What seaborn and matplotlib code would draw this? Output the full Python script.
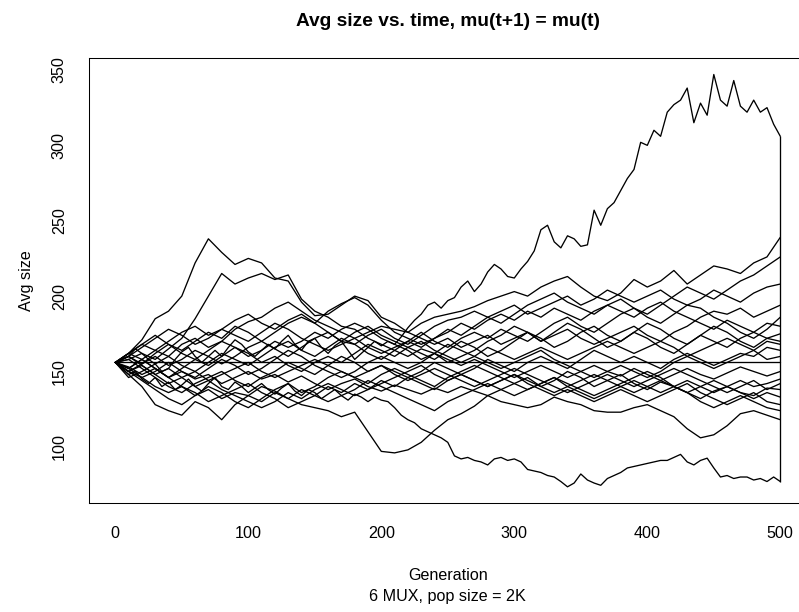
import matplotlib
matplotlib.use("Agg")
import matplotlib.pyplot as plt
import pandas as pd
import seaborn as sns

# Generation grids used by the recorded runs
GEN_FINE = list(range(0, 501, 5))
GEN_COARSE = list(range(0, 501, 10))

# Average program size per run (GEN_FINE samples)
RUN_A = [156, 158, 160, 165, 162, 158, 155, 150, 152, 158,
         163, 166, 160, 156, 160, 164, 160, 166, 171, 168,
         163, 160, 164, 168, 165, 170, 174, 168, 164, 170,
         172, 166, 162, 167, 170, 164, 158, 162, 166, 170,
         167, 170, 168, 173, 179, 184, 188, 194, 196, 192,
         197, 199, 206, 210, 203, 208, 216, 221, 218, 213,
         212, 218, 223, 230, 244, 247, 236, 232, 240, 238,
         233, 234, 257, 247, 258, 262, 270, 278, 284, 302,
         300, 310, 306, 322, 327, 330, 338, 315, 328, 320,
         347, 330, 326, 343, 326, 322, 330, 322, 325, 314,
         306]
RUN_B = [156, 152, 148, 150, 145, 142, 146, 140, 143, 138,
         141, 145, 140, 137, 142, 146, 140, 138, 143, 140,
         136, 139, 142, 138, 135, 139, 142, 137, 134, 138,
         136, 132, 135, 138, 134, 131, 135, 133, 130, 133,
         131, 130, 126, 121, 118, 116, 112, 110, 108, 106,
         103, 94, 92, 93, 91, 90, 88, 92, 93, 91,
         92, 90, 85, 84, 83, 81, 80, 77, 73.5, 76,
         82, 78, 76, 74.5, 79, 81, 83, 86, 87, 88,
         89, 90, 91, 91, 93, 95, 90, 88, 91, 92.5,
         86, 80, 81, 79, 80, 80, 78, 79, 77, 80,
         77]

# Average program size per run (GEN_COARSE samples)
RUN_C = [156, 150, 146, 140, 136, 140, 134, 138, 132, 136,
         134, 140, 137, 132, 128, 126, 124, 120, 123, 110,
         97, 96, 98, 103, 111, 118, 122, 127, 134, 138,
         142, 146, 140, 144, 150, 146, 140, 144, 148, 142,
         138, 143, 140, 136, 132, 137, 140, 136, 134, 139, 138]
RUN_D = [156, 162, 171, 185, 190, 200, 222, 238, 229, 221,
         225, 222, 212, 210, 196, 187, 188, 194, 200, 197,
         186, 182, 176, 172, 168, 172, 166, 170, 174, 168,
         172, 176, 170, 174, 178, 172, 168, 172, 176, 180,
         174, 170, 176, 180, 186, 190, 188, 192, 186, 190, 194]
RUN_E = [156, 158, 162, 158, 165, 172, 185, 200, 215, 208,
         212, 215, 211, 214, 198, 190, 186, 180, 178, 172,
         168, 164, 160, 165, 162, 158, 154, 158, 154, 150,
         146, 150, 154, 150, 146, 150, 154, 150, 147, 152,
         148, 144, 148, 152, 148, 145, 149, 153, 150, 147, 150]
RUN_F = [156, 160, 155, 162, 168, 164, 170, 176, 172, 180,
         176, 170, 176, 182, 186, 182, 190, 195, 199, 194,
         184, 176, 172, 168, 172, 176, 182, 178, 184, 188,
         184, 190, 186, 192, 188, 184, 190, 194, 190, 186,
         192, 196, 190, 186, 182, 178, 184, 180, 176, 182, 180]
RUN_G = [156, 152, 158, 164, 160, 168, 172, 166, 170, 178,
         183, 186, 192, 196, 190, 184, 180, 176, 172, 176,
         180, 178, 176, 182, 186, 188, 190, 193, 197, 200,
         203, 200, 206, 210, 213, 206, 200, 197, 202, 211,
         206, 210, 217, 208, 214, 220, 218, 215, 222, 226, 239]
RUN_H = [156, 148, 140, 128, 124, 121, 130, 126, 118, 128,
         134, 130, 136, 132, 138, 134, 140, 136, 142, 138,
         144, 140, 146, 142, 138, 144, 148, 144, 140, 144,
         148, 144, 140, 136, 140, 144, 148, 144, 140, 136,
         140, 144, 140, 136, 140, 144, 140, 136, 132, 136, 133]
RUN_I = [156, 153, 148, 152, 146, 150, 145, 148, 142, 146,
         150, 145, 148, 143, 147, 142, 138, 142, 145, 140,
         137, 141, 138, 135, 139, 136, 140, 137, 134, 130,
         128, 126, 128, 133, 130, 128, 124, 123, 123, 126,
         128, 124, 120, 112, 106, 108, 114, 122, 124, 121, 118]
RUN_K = [156, 150, 155, 160, 154, 158, 164, 160, 155, 160,
         166, 170, 165, 160, 166, 172, 176, 170, 168, 174,
         178, 172, 168, 174, 180, 184, 186, 190, 186, 182,
         188, 194, 198, 202, 196, 192, 188, 194, 198, 192,
         188, 194, 200, 206, 202, 198, 204, 210, 214, 220, 226]
RUN_L = [156, 160, 166, 172, 178, 174, 168, 172, 178, 174,
         170, 176, 182, 178, 172, 168, 164, 168, 172, 166,
         162, 166, 170, 166, 172, 178, 174, 180, 186, 190,
         194, 188, 192, 196, 200, 194, 198, 204, 200, 196,
         200, 204, 198, 194, 198, 204, 200, 196, 202, 206, 208]
RUN_M = [156, 146, 150, 155, 160, 154, 150, 156, 162, 158,
         154, 160, 166, 170, 164, 160, 166, 172, 168, 162,
         158, 164, 170, 176, 170, 166, 172, 176, 172, 178,
         174, 170, 176, 182, 186, 180, 176, 182, 188, 192,
         186, 182, 188, 194, 192, 186, 182, 176, 172, 178, 186]
RUN_N = [156, 162, 158, 152, 146, 152, 158, 154, 160, 166,
         162, 156, 160, 154, 150, 156, 160, 156, 162, 168,
         164, 160, 166, 162, 158, 164, 170, 166, 160, 164,
         170, 176, 172, 166, 170, 176, 180, 174, 170, 176,
         182, 178, 172, 168, 174, 180, 176, 170, 166, 172, 175]
RUN_O = [156, 152, 146, 150, 156, 150, 146, 152, 158, 154,
         148, 152, 158, 164, 160, 154, 150, 146, 150, 156,
         160, 156, 152, 156, 162, 168, 164, 160, 166, 162,
         158, 162, 166, 162, 158, 162, 166, 170, 166, 162,
         166, 170, 166, 160, 164, 168, 172, 168, 164, 170, 168]
RUN_P = [156, 158, 152, 146, 140, 136, 142, 146, 150, 144,
         140, 146, 150, 156, 152, 148, 154, 160, 156, 150,
         154, 150, 146, 150, 156, 152, 148, 152, 158, 154,
         150, 156, 160, 156, 152, 158, 164, 160, 156, 160,
         156, 152, 158, 162, 158, 154, 158, 162, 160, 166, 164]
RUN_Q = [156, 162, 168, 164, 170, 176, 180, 174, 178, 184,
         188, 182, 178, 184, 188, 182, 176, 170, 176, 180,
         174, 170, 166, 170, 164, 160, 156, 160, 156, 152,
         156, 160, 164, 158, 154, 150, 146, 150, 154, 150,
         146, 150, 156, 160, 156, 152, 156, 160, 164, 158, 160]
RUN_R = [156, 150, 144, 138, 132, 128, 134, 140, 136, 130,
         126, 132, 138, 142, 136, 140, 146, 150, 146, 142,
         148, 152, 148, 144, 140, 146, 150, 154, 150, 146,
         142, 138, 142, 146, 140, 136, 132, 136, 140, 144,
         140, 136, 140, 144, 140, 136, 140, 144, 140, 142, 145]
RUN_S = [156, 160, 154, 148, 152, 146, 140, 144, 148, 152,
         156, 150, 146, 150, 154, 158, 154, 150, 146, 150,
         154, 148, 144, 148, 152, 148, 144, 140, 144, 148,
         152, 148, 144, 140, 136, 140, 144, 148, 144, 140,
         144, 148, 152, 148, 144, 140, 136, 140, 144, 138, 142]
RUN_T = [156, 150, 154, 148, 142, 146, 150, 144, 138, 134,
         130, 126, 130, 136, 132, 138, 142, 138, 134, 138,
         142, 146, 150, 154, 148, 144, 148, 144, 140, 144,
         148, 142, 138, 134, 138, 134, 130, 134, 138, 134,
         130, 134, 138, 142, 136, 132, 128, 132, 136, 130, 128]
RUN_U = [156, 152, 158, 152, 146, 140, 136, 130, 134, 138,
         142, 136, 132, 126, 130, 134, 130, 134, 138, 144,
         140, 136, 132, 128, 124, 130, 134, 138, 142, 138,
         134, 138, 142, 146, 142, 138, 134, 138, 142, 146,
         150, 146, 140, 136, 130, 126, 130, 134, 130, 126, 124]
RUN_V = [156, 162, 168, 174, 168, 162, 158, 164, 170, 166,
         160, 164, 170, 166, 170, 176, 172, 178, 182, 178,
         172, 168, 164, 158, 162, 156, 160, 164, 170, 174,
         180, 176, 170, 176, 182, 178, 172, 166, 170, 176,
         172, 166, 162, 168, 174, 170, 166, 172, 176, 172, 170]

# One run whose average size never moved
FLAT_GENS = [0, 500]
FLAT_RUN = [156, 156]

runs = {
    "A": (GEN_FINE, RUN_A), "B": (GEN_FINE, RUN_B),
    "C": (GEN_COARSE, RUN_C), "D": (GEN_COARSE, RUN_D),
    "E": (GEN_COARSE, RUN_E), "F": (GEN_COARSE, RUN_F),
    "G": (GEN_COARSE, RUN_G), "H": (GEN_COARSE, RUN_H),
    "I": (GEN_COARSE, RUN_I), "K": (GEN_COARSE, RUN_K),
    "L": (GEN_COARSE, RUN_L), "M": (GEN_COARSE, RUN_M),
    "N": (GEN_COARSE, RUN_N), "O": (GEN_COARSE, RUN_O),
    "P": (GEN_COARSE, RUN_P), "Q": (GEN_COARSE, RUN_Q),
    "R": (GEN_COARSE, RUN_R), "S": (GEN_COARSE, RUN_S),
    "T": (GEN_COARSE, RUN_T), "U": (GEN_COARSE, RUN_U),
    "V": (GEN_COARSE, RUN_V), "Z": (FLAT_GENS, FLAT_RUN),
}

frames = []
for name, (gens, vals) in runs.items():
    frames.append(pd.DataFrame({"gen": gens, "size": vals, "run": name}))
df = pd.concat(frames, ignore_index=True)

sns.set_style("white")
plt.rcParams["font.family"] = ["Liberation Sans", "DejaVu Sans"]
plt.rcParams["text.color"] = "black"
plt.rcParams["axes.labelcolor"] = "black"
plt.rcParams["xtick.color"] = "black"
plt.rcParams["ytick.color"] = "black"

W, H = 799, 612
fig = plt.figure(figsize=(W / 100, H / 100), dpi=100)
left_px, right_px, top_px, bottom_px = 88.7, 806.9, 58.0, 503.3
ax = fig.add_axes([left_px / W, 1 - bottom_px / H,
                   (right_px - left_px) / W, (bottom_px - top_px) / H])

sns.lineplot(data=df, x="gen", y="size", units="run", estimator=None,
             color="black", linewidth=0.95, ax=ax, legend=False)

# closing segment joining the final values of all runs
ends = df[df["gen"] == df["gen"].max()]["size"]
ax.vlines(df["gen"].max(), ends.min(), ends.max(), color="black", linewidth=0.95)

# R-style 4% padding around the data range
xmin, xmax = df["gen"].min(), df["gen"].max()
ymin, ymax = df["size"].min(), df["size"].max()
xr, yr = xmax - xmin, ymax - ymin
ax.set_xlim(xmin - 0.04 * xr, xmax + 0.04 * xr)
ax.set_ylim(ymin - 0.04 * yr, ymax + 0.04 * yr)

ax.set_xticks(range(0, 501, 100))
ax.set_yticks(range(100, 351, 50))
ax.set_xlabel("")
ax.set_ylabel("")
ax.tick_params(axis="both", direction="out", length=7.2, width=0.75,
               colors="black", labelcolor="black", labelsize=11.6)
ax.tick_params(axis="x", pad=9.0)
ax.tick_params(axis="y", pad=8.5)
for lbl in ax.get_yticklabels():
    lbl.set_rotation(90)
    lbl.set_va("center")
    lbl.set_ha("right")
for sp in ax.spines.values():
    sp.set_color("black")
    sp.set_linewidth(0.75)

cx = (left_px + right_px) / 2 / W
fig.text(cx, 1 - 21 / H, "Avg size vs. time, mu(t+1) = mu(t)", color="black",
         ha="center", va="center", fontsize=13.8, fontweight="bold")
fig.text(cx, 1 - 575.7 / H, "Generation", ha="center", va="center",
         fontsize=11.6, color="black")
fig.text(cx, 1 - 596 / H, "6 MUX, pop size = 2K", ha="center", va="center",
         fontsize=11.6, color="black")
fig.text(27 / W, 1 - ((top_px + bottom_px) / 2) / H, "Avg size", rotation=90,
         ha="center", va="center", fontsize=11.6, color="black")

fig.savefig("out.png", dpi=100)
